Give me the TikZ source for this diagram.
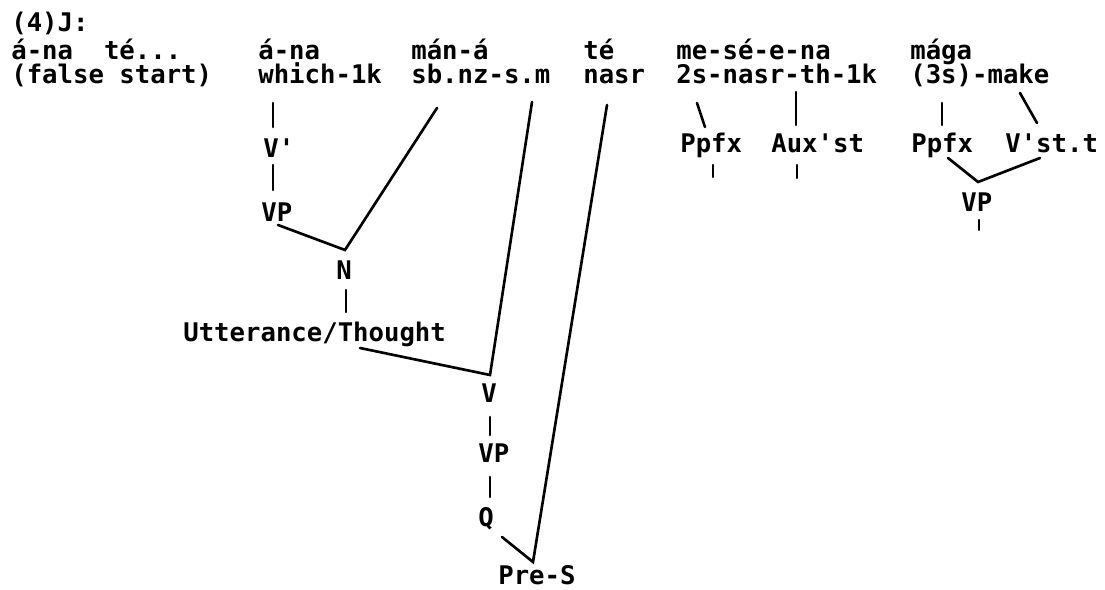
\documentclass[tikz,border=0pt]{standalone}
\usepackage{fontspec}
\newfontfamily\tw{DejaVu Sans Mono}
\usetikzlibrary{calc}

\begin{document}
\begin{tikzpicture}[x=0.02cm,y=-0.02cm,
  word/.style={font={\tw\bfseries\fontsize{14.6}{17}\selectfont},inner sep=0pt,anchor=base west},
  edge/.style={draw=black,line width=1.5pt,line cap=round},
  tick/.style={draw=black,line width=1.2pt,line cap=round}]
\useasboundingbox (0,0) rectangle (1105,590);

% top lines
\node[word] (hdr) at (11,32) {(4)J:};
\node[word] (fsA) at (11,60) {á-na\ \ té...};
\node[word] (fsB) at (11,84) {(false start)};
\node[word] (ana) at (258,60) {á-na};
\node[word] (which) at (258,84) {which-1k};
\node[word] (man) at (411,60) {mán-á};
\node[word] (sbnz) at (411,84) {sb.nz-s.m};
\node[word] (te) at (583,60) {té};
\node[word] (nasr) at (583,84) {nasr};
\node[word] (mese) at (676,60) {me-sé-e-na};
\node[word] (nasrth) at (676,84) {2s-nasr-th-1k};
\node[word] (maga) at (910,60) {mága};
\node[word] (make) at (910,84) {(3s)-make};

% tree labels
\node[word] (vbar) at (263,158) {V\textquotesingle};
\node[word] (vpA) at (261,222) {VP};
\node[word] (nA) at (336,280) {N};
\node[word] (utt) at (183,342) {Utterance/Thought};
\node[word] (vB) at (481,403) {V};
\node[word] (vpB) at (478,463) {VP};
\node[word] (q) at (478,527) {Q};
\node[word] (pres) at (498,584) {Pre-S};
\node[word] (ppfxA) at (680,153) {Ppfx};
\node[word] (aux) at (771,153) {Aux\textquotesingle st};
\node[word] (ppfxB) at (911,153) {Ppfx};
\node[word] (vst) at (1005,153) {V\textquotesingle st.t};
\node[word] (vpC) at (961,212) {VP};

\coordinate (jN) at ($(nA.base west)+(9,-30)$);
\coordinate (jV) at ($(vB.base west)+(9,-28)$);
\coordinate (jP) at ($(pres.base west)+(35,-22)$);
\coordinate (jC) at ($(vpC.base west)+(17,-30)$);
\coordinate (tA) at ($(ppfxA.base west)+(33,24)$);
\coordinate (tB) at ($(aux.base west)+(26,25)$);
\coordinate (tC) at ($(vpC.base west)+(18,18)$);

\draw[edge] ($(which.base west)+(15,19)$) -- ($(vbar.base west)+(10,-31)$);
\draw[edge] ($(vbar.base west)+(10,7)$) -- ($(vpA.base west)+(12,-32)$);
\draw[edge] ($(vpA.base west)+(17,3)$) -- (jN) -- ($(sbnz.base west)+(26,24)$);
\draw[edge] ($(nA.base west)+(10,10)$) -- ($(utt.base west)+(163,-30)$);
\draw[edge] ($(utt.base west)+(177,6)$) -- (jV) -- ($(sbnz.base west)+(121,18)$);
\draw[edge] ($(vB.base west)+(9,14)$) -- ($(vpB.base west)+(12,-28)$);
\draw[edge] ($(vpB.base west)+(12,14)$) -- ($(q.base west)+(12,-30)$);
\draw[edge] ($(q.base west)+(24,10)$) -- (jP) -- ($(nasr.base west)+(24,21)$);

\draw[edge] ($(nasrth.base west)+(21,19)$) -- ($(ppfxA.base west)+(25,-26)$);
\draw[edge] ($(nasrth.base west)+(120,8)$) -- ($(aux.base west)+(25,-28)$);
\draw[edge] ($(make.base west)+(32,19)$) -- ($(ppfxB.base west)+(31,-28)$);
\draw[edge] ($(make.base west)+(110,9)$) -- ($(vst.base west)+(32,-30)$);
\draw[edge] ($(ppfxB.base west)+(37,5)$) -- (jC) -- ($(vst.base west)+(35,5)$);
\draw[tick] ($(ppfxA.base west)+(33,12)$) -- (tA);
\draw[tick] ($(aux.base west)+(26,12)$) -- (tB);
\draw[tick] ($(vpC.base west)+(18,8)$) -- (tC);

\end{tikzpicture}
\end{document}
